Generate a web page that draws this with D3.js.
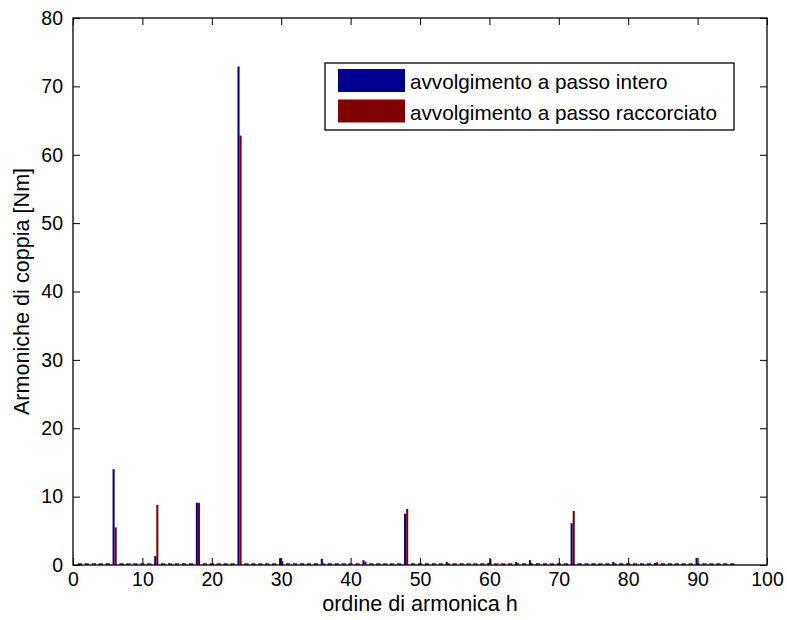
<!DOCTYPE html>
<html>
<head>
<meta charset="utf-8">
<script src="https://cdn.jsdelivr.net/npm/d3@7"></script>
<style>
  html, body { margin: 0; padding: 0; background: #fff; }
  svg { display: block; font-family: "Liberation Sans", Arial, sans-serif; }
</style>
</head>
<body>
<svg id="chart" width="787" height="620"></svg>
<script>
// Harmonic orders h = 1..95
const harmonics = [
  1, 2, 3, 4, 5, 6, 7, 8, 9, 10, 11, 12, 13, 14, 15, 16, 17, 18, 19, 20,
  21, 22, 23, 24, 25, 26, 27, 28, 29, 30, 31, 32, 33, 34, 35, 36, 37, 38, 39, 40,
  41, 42, 43, 44, 45, 46, 47, 48, 49, 50, 51, 52, 53, 54, 55, 56, 57, 58, 59, 60,
  61, 62, 63, 64, 65, 66, 67, 68, 69, 70, 71, 72, 73, 74, 75, 76, 77, 78, 79, 80,
  81, 82, 83, 84, 85, 86, 87, 88, 89, 90, 91, 92, 93, 94, 95
];

// Torque harmonics [Nm], full-pitch winding
const passoIntero = [
  0.25, 0.25, 0.25, 0.25, 0.25, 14.0, 0.25, 0.25, 0.25, 0.25,
  0.25, 1.3, 0.25, 0.25, 0.25, 0.25, 0.25, 9.1, 0.25, 0.25,
  0.25, 0.25, 0.25, 72.9, 0.25, 0.25, 0.25, 0.25, 0.25, 1.0,
  0.25, 0.25, 0.25, 0.25, 0.25, 0.9, 0.25, 0.25, 0.25, 0.25,
  0.25, 0.7, 0.25, 0.25, 0.25, 0.25, 0.25, 7.5, 0.25, 0.25,
  0.25, 0.25, 0.25, 0.45, 0.25, 0.25, 0.25, 0.25, 0.25, 0.3,
  0.25, 0.25, 0.25, 0.45, 0.25, 0.7, 0.25, 0.25, 0.25, 0.25,
  0.25, 6.1, 0.25, 0.25, 0.25, 0.25, 0.25, 0.45, 0.25, 0.25,
  0.25, 0.25, 0.25, 0.3, 0.25, 0.25, 0.25, 0.25, 0.25, 1.05,
  0.25, 0.25, 0.25, 0.25, 0.25
];

// Torque harmonics [Nm], short-pitch winding
const passoRaccorciato = [
  0.25, 0.25, 0.25, 0.25, 0.25, 5.5, 0.25, 0.25, 0.25, 0.25,
  0.25, 8.8, 0.25, 0.25, 0.25, 0.25, 0.25, 9.1, 0.25, 0.25,
  0.25, 0.25, 0.25, 62.8, 0.25, 0.25, 0.25, 0.25, 0.25, 0.55,
  0.25, 0.25, 0.25, 0.25, 0.25, 0.25, 0.25, 0.25, 0.25, 0.25,
  0.25, 0.5, 0.25, 0.25, 0.25, 0.25, 0.25, 8.2, 0.25, 0.25,
  0.25, 0.25, 0.25, 0.25, 0.25, 0.25, 0.25, 0.25, 0.25, 0.9,
  0.25, 0.25, 0.25, 0.25, 0.25, 0.25, 0.25, 0.25, 0.25, 0.25,
  0.25, 7.9, 0.25, 0.25, 0.25, 0.25, 0.25, 0.25, 0.25, 0.25,
  0.25, 0.25, 0.25, 0.4, 0.25, 0.25, 0.25, 0.25, 0.25, 0.25,
  0.25, 0.25, 0.25, 0.25, 0.25
];

const seriesNames = ["avvolgimento a passo intero", "avvolgimento a passo raccorciato"];
const seriesColors = ["#000090", "#800000"];

const xTicks = [0, 10, 20, 30, 40, 50, 60, 70, 80, 90, 100];
const yTicks = [0, 10, 20, 30, 40, 50, 60, 70, 80];

const svg = d3.select("#chart");
const plotLeft = 73, plotRight = 767, plotTop = 18, plotBottom = 565;
const tickFont = 19.5, legendFont = 20.7, titleFont = 21.6;

const x = d3.scaleLinear().domain([0, 100]).range([plotLeft, plotRight]);
const y = d3.scaleLinear().domain([0, 80]).range([plotBottom, plotTop]);

// Each group: first series just left of h, second just right of h
const barW = 0.3;
const rows = harmonics.map((h, i) => ({ h, v: [passoIntero[i], passoRaccorciato[i]] }));

const bars = svg.append("g");
[0, 1].forEach(s => {
  bars.append("g").selectAll("rect")
    .data(rows)
    .join("rect")
    .attr("x", d => x(s === 0 ? d.h - barW : d.h))
    .attr("width", d => x(barW) - x(0))
    .attr("y", d => y(d.v[s]))
    .attr("height", d => y(0) - y(d.v[s]))
    .attr("fill", seriesColors[s]);
});

// Axes with inward ticks on all four sides
const tickLen = 7;
const axisStyle = g => {
  g.selectAll(".domain").remove();
  g.selectAll(".tick line").attr("stroke", "#000").attr("stroke-width", 1);
  g.selectAll("text").attr("font-size", tickFont).attr("fill", "#000")
    .attr("font-family", "'Liberation Sans', Arial, sans-serif");
};

svg.append("g")
  .attr("transform", `translate(0,${plotBottom})`)
  .call(d3.axisBottom(x).tickValues(xTicks).tickSizeInner(-tickLen).tickSizeOuter(0).tickPadding(7.5))
  .call(axisStyle);

svg.append("g")
  .attr("transform", `translate(0,${plotTop})`)
  .call(d3.axisTop(x).tickValues(xTicks).tickSizeInner(-tickLen).tickSizeOuter(0).tickFormat(""))
  .call(axisStyle);

svg.append("g")
  .attr("transform", `translate(${plotLeft},0)`)
  .call(d3.axisLeft(y).tickValues(yTicks).tickSizeInner(-tickLen).tickSizeOuter(0).tickPadding(10))
  .call(axisStyle);

svg.append("g")
  .attr("transform", `translate(${plotRight},0)`)
  .call(d3.axisRight(y).tickValues(yTicks).tickSizeInner(-tickLen).tickSizeOuter(0).tickFormat(""))
  .call(axisStyle);

// Axes box
svg.append("rect")
  .attr("x", plotLeft).attr("y", plotTop)
  .attr("width", plotRight - plotLeft).attr("height", plotBottom - plotTop)
  .attr("fill", "none").attr("stroke", "#000").attr("stroke-width", 1.3);

// Axis titles
svg.append("text")
  .attr("x", 420).attr("y", 611)
  .attr("text-anchor", "middle").attr("font-size", titleFont)
  .text("ordine di armonica h");

svg.append("text")
  .attr("transform", `translate(29,${(plotTop + plotBottom) / 2}) rotate(-90)`)
  .attr("text-anchor", "middle").attr("font-size", titleFont)
  .text("Armoniche di coppia [Nm]");

// Legend
const legend = svg.append("g");
legend.append("rect")
  .attr("x", 325).attr("y", 63).attr("width", 409).attr("height", 67)
  .attr("fill", "#fff").attr("stroke", "#000").attr("stroke-width", 1.3);

seriesNames.forEach((name, i) => {
  const yy = 69 + i * 30.5;
  legend.append("rect")
    .attr("x", 338).attr("y", yy).attr("width", 67).attr("height", 23)
    .attr("fill", seriesColors[i]);
  legend.append("text")
    .attr("x", 410).attr("y", yy + 20.3)
    .attr("font-size", legendFont)
    .text(name);
});
</script>
</body>
</html>
